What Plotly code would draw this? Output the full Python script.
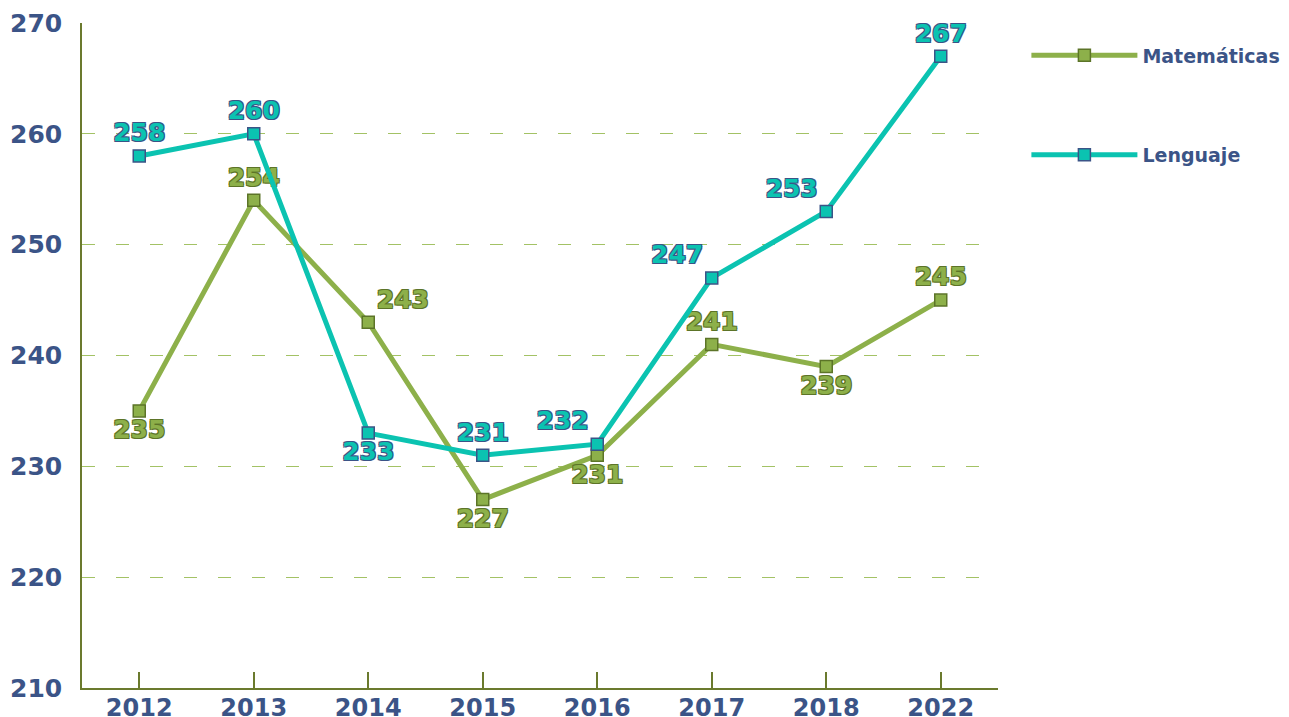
import plotly.graph_objects as go

years = ["2012", "2013", "2014", "2015", "2016", "2017", "2018", "2022"]
matematicas = [235, 254, 243, 227, 231, 241, 239, 245]
lenguaje = [258, 260, 233, 231, 232, 247, 253, 267]
mat_pos = ["bottom center", "top center", "top right", "bottom center",
           "bottom center", "top center", "bottom center", "top center"]
len_pos = ["top center", "top center", "bottom center", "top center",
           "top left", "top left", "top left", "top center"]
y_ticks = [210, 220, 230, 240, 250, 260, 270]

FONT = "DejaVu Sans"
BLUE = "#3B5487"
MAT = "#8DB04A"
MAT_DARK = "#5C7428"
LEN = "#0BC3B1"


def outline(c):
    return ", ".join(f"{dx}px {dy}px 0 {c}" for dx, dy in
                     [(-1, -1), (1, -1), (-1, 1), (1, 1)])


fig = go.Figure()
fig.add_trace(go.Scatter(
    x=years, y=matematicas, name="Matemáticas", mode="lines+markers+text",
    legendgroup="m",
    line=dict(color=MAT, width=5),
    marker=dict(symbol="square", size=12, color=MAT, line=dict(color=MAT_DARK, width=1.5)),
    text=[str(v) for v in matematicas], textposition=mat_pos,
    textfont=dict(family=FONT, size=25, color=MAT, weight="bold", shadow=outline(MAT_DARK)),
))
fig.add_trace(go.Scatter(
    x=years, y=lenguaje, name="Lenguaje", mode="lines+markers+text",
    legendgroup="l",
    line=dict(color=LEN, width=5),
    marker=dict(symbol="square", size=12, color=LEN, line=dict(color=BLUE, width=1.5)),
    text=[str(v) for v in lenguaje], textposition=len_pos,
    textfont=dict(family=FONT, size=25, color=LEN, weight="bold", shadow=outline(BLUE)),
))

fig.update_layout(
    width=1281, height=709,
    margin=dict(l=74, r=291, t=15, b=29, autoexpand=False),
    plot_bgcolor="white", paper_bgcolor="white",
    font=dict(family=FONT, color=BLUE),
    legend=dict(x=1.031, y=0.98, xanchor="left", yanchor="top",
                traceorder="grouped", tracegroupgap=72, itemwidth=106,
                font=dict(family=FONT, size=19, color=BLUE, weight="bold")),
    xaxis=dict(type="category", range=[-0.5, 7.5], showgrid=False, automargin=False,
               showline=True, linecolor="#6B7A2E", linewidth=1.5,
               ticks="inside", ticklen=16, tickcolor="#6B7A2E", tickwidth=1.5,
               ticklabelstandoff=-3,
               tickfont=dict(family=FONT, size=24, color=BLUE, weight="bold")),
    yaxis=dict(range=[210, 270], tickvals=y_ticks, showgrid=True, automargin=False,
               gridcolor="#A3C265", griddash="13px,21px", gridwidth=1.3,
               zeroline=False, showline=True, linecolor="#6B7A2E", linewidth=1.5,
               ticks="", ticklabelstandoff=13,
               tickfont=dict(family=FONT, size=25, color=BLUE, weight="bold")),
)

fig.write_html("out.html")
